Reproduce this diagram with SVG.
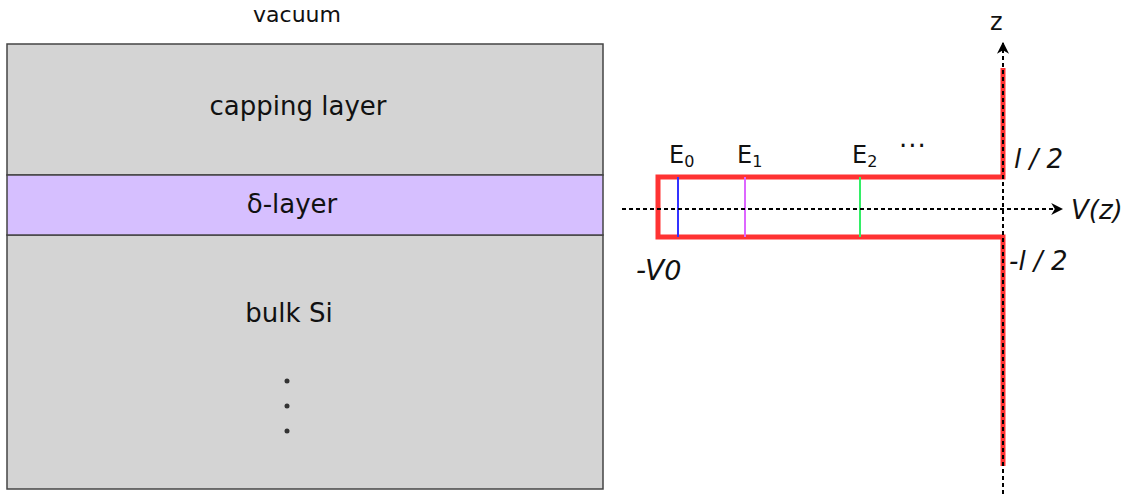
<svg xmlns="http://www.w3.org/2000/svg" width="1128" height="496" viewBox="0 0 1128 496">
<defs>
<style>
text{font-family:"DejaVu Sans","Liberation Sans",sans-serif;fill:#111}
.lbl{font-size:26px;text-anchor:middle}
.it{font-style:italic}
.dash{stroke:#000;stroke-width:2;stroke-dasharray:4 3;fill:none}
</style>
<marker id="ah" viewBox="0 0 10 10" refX="9" refY="5" markerWidth="12" markerHeight="12" markerUnits="userSpaceOnUse" orient="auto">
<path d="M0,0 L10,5 L0,10 L3,5 z" fill="#000"/>
</marker>
</defs>
<rect width="1128" height="496" fill="#fff"/>
<text x="297" y="22" style="font-size:22px;text-anchor:middle">vacuum</text>
<g id="capping">
<rect x="7" y="44" width="596" height="131" fill="#d4d4d4" stroke="#444" stroke-width="1.5"/>
<text class="lbl" x="298" y="115">capping layer</text>
</g>
<g id="bulk">
<rect x="7" y="235" width="596" height="254" fill="#d4d4d4" stroke="#444" stroke-width="1.5"/>
<text class="lbl" x="289" y="322">bulk Si</text>
<circle cx="287" cy="381" r="2.5" fill="#333"/>
<circle cx="287" cy="406" r="2.5" fill="#333"/>
<circle cx="287" cy="431" r="2.5" fill="#333"/>
</g>
<g id="delta">
<rect x="7" y="175" width="596" height="60" fill="#d6bfff" stroke="#444" stroke-width="1.5"/>
<text class="lbl" x="292" y="213">δ-layer</text>
</g>
<g id="potential">
<polyline points="1003,68 1003,177 658,177 658,237 1003,237 1003,466" fill="none" stroke="#ff3333" stroke-width="5"/>
<line x1="678" y1="177" x2="678" y2="237" stroke="#3333ff" stroke-width="2"/>
<line x1="745" y1="177" x2="745" y2="237" stroke="#dd66ff" stroke-width="2"/>
<line x1="860" y1="177" x2="860" y2="237" stroke="#33ee66" stroke-width="2"/>
</g>
<g id="axes">
<line class="dash" x1="622" y1="209" x2="1062" y2="209" marker-end="url(#ah)"/>
<line class="dash" x1="1003" y1="494" x2="1003" y2="43" marker-end="url(#ah)"/>
</g>
<g id="labels">
<text x="990" y="30" style="font-size:24px">z</text>
<text x="669" y="163" style="font-size:24px">E<tspan dy="4" style="font-size:16px">0</tspan></text>
<text x="737" y="163" style="font-size:24px">E<tspan dy="4" style="font-size:16px">1</tspan></text>
<text x="852" y="163" style="font-size:24px">E<tspan dy="4" style="font-size:16px">2</tspan></text>
<text x="899" y="155" style="font-size:26px;letter-spacing:1px">···</text>
<text x="1014" y="168" style="font-size:26px" class="it">l / 2</text>
<text x="1009" y="270" style="font-size:26px" class="it">-l / 2</text>
<text x="1071" y="219" style="font-size:26px" class="it">V(z)</text>
<text x="636" y="280" style="font-size:28px" class="it">-V<tspan style="font-size:27px">0</tspan></text>
</g>
</svg>
